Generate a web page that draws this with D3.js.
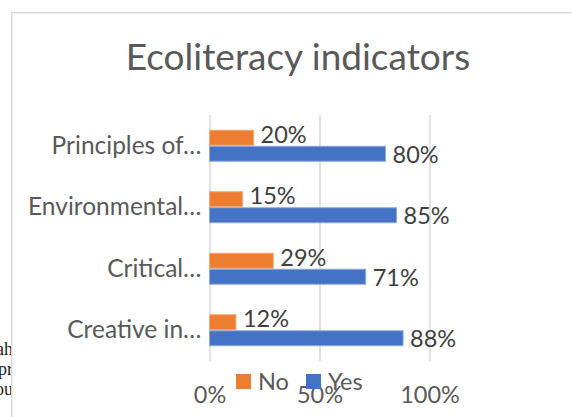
<!DOCTYPE html>
<html lang="en">
<head>
    <meta charset="UTF-8">
    <title>Ecoliteracy indicators</title>
    <script src="https://cdn.jsdelivr.net/npm/d3@7"></script>
    <style>
        body { margin: 0; background: #fff; }
        svg { display: block; }
    </style>
</head>
<body>
    <div id="container"></div>

    <script>
        // data
        const categories = ["Principles of…", "Environmental…", "Critical…", "Creative in…"]
        const seriesNames = ["No", "Yes"]
        const noValues = [0.20, 0.15, 0.29, 0.12]
        const yesValues = [0.80, 0.85, 0.71, 0.88]
        const tickValues = [0, 0.5, 1]
        const colors = ["#ED7D31", "#4472C4"]
        const strokeColors = ["#f4a877", "#8eaadb"]
        // bits of page text peeking out left of the chart
        const pageScraps = ["ah", "pr", "ou"]

        const w = 572, h = 417
        const font = "Lato, 'Open Sans', sans-serif"

        const svg = d3.select("#container").append("svg").attr("width", w).attr("height", h)

        // text from the document behind the chart
        svg.selectAll("text.scrap").data(pageScraps).enter().append("text")
            .attr("class", "scrap")
            .attr("x", 13).attr("y", (d, i) => 355 + i * 20)
            .attr("text-anchor", "end")
            .attr("font-family", "'Liberation Serif', serif").attr("font-size", 18)
            .attr("fill", "#222").text(d => d)

        // chart frame, runs off the right and bottom of the window
        svg.append("rect").attr("x", 11.75).attr("y", 12.75).attr("width", 700).attr("height", 500)
            .attr("fill", "#fff").attr("stroke", "#d9d9d9").attr("stroke-width", 1.5)

        svg.append("text").attr("x", 298).attr("y", 70).attr("text-anchor", "middle")
            .attr("font-family", font).attr("font-size", 37).attr("fill", "#595959")
            .text("Ecoliteracy indicators")

        const plotTop = 115, plotBottom = 361
        const x = d3.scaleLinear([0, 1], [209.5, 429.5])
        const y = d3.scaleBand(categories, [plotTop, plotBottom]).paddingInner(0.48).paddingOuter(0.24)
        const ySub = d3.scaleBand(seriesNames, [0, y.bandwidth()])

        // gridlines + percent labels
        const xAxis = svg.append("g").attr("transform", `translate(0,${plotBottom})`)
            .call(d3.axisBottom(x).tickValues(tickValues).tickFormat(d3.format(".0%")).tickSize(-(plotBottom - plotTop)))
        xAxis.select(".domain").remove()
        xAxis.selectAll(".tick line").attr("stroke", "#d9d9d9").attr("stroke-width", 1.5)
        xAxis.selectAll(".tick text").attr("y", 42).attr("dy", 0)
            .attr("font-family", font).attr("font-size", 23.5).attr("fill", "#595959")

        // category labels
        const yAxis = svg.append("g").attr("transform", `translate(${x(0)},0)`)
            .call(d3.axisLeft(y).tickSize(0).tickPadding(8))
        yAxis.select(".domain").remove()
        yAxis.selectAll(".tick text").attr("dy", "0.33em")
            .attr("font-family", font).attr("font-size", 24.5).attr("fill", "#595959")

        const rows = categories.map((c, i) => ({ cat: c, vals: [noValues[i], yesValues[i]] }))

        const groups = svg.selectAll("g.row").data(rows).enter().append("g")
            .attr("class", "row").attr("transform", d => `translate(0,${y(d.cat)})`)

        const cells = groups.selectAll("g.cell")
            .data(d => d.vals.map((v, j) => ({ name: seriesNames[j], v, j })))
            .enter().append("g").attr("class", "cell")

        cells.append("rect")
            .attr("x", x(0))
            .attr("y", d => ySub(d.name) + 0.5)
            .attr("width", d => x(d.v) - x(0))
            .attr("height", ySub.bandwidth() - 1)
            .attr("fill", d => colors[d.j])
            .attr("stroke", d => strokeColors[d.j]).attr("stroke-width", 1)

        // value labels, "No" sits a bit higher than its bar bottom
        cells.append("text")
            .attr("x", d => x(d.v) + 7)
            .attr("y", d => ySub(d.name) + ySub.bandwidth() + (d.j === 0 ? -3 : 1))
            .attr("font-family", font).attr("font-size", 23.5).attr("fill", "#404040")
            .text(d => d3.format(".0%")(d.v))

        // legend, overlapping the tick labels like the original
        const legend = svg.selectAll("g.legend").data(seriesNames).enter().append("g")
            .attr("class", "legend").attr("transform", (d, i) => `translate(${236 + i * 70},374)`)
        legend.append("rect").attr("width", 15).attr("height", 15).attr("fill", (d, i) => colors[i])
        legend.append("text").attr("x", 22).attr("y", 16)
            .attr("font-family", font).attr("font-size", 23.5).attr("fill", "#595959").text(d => d)
    </script>
</body>
</html>
